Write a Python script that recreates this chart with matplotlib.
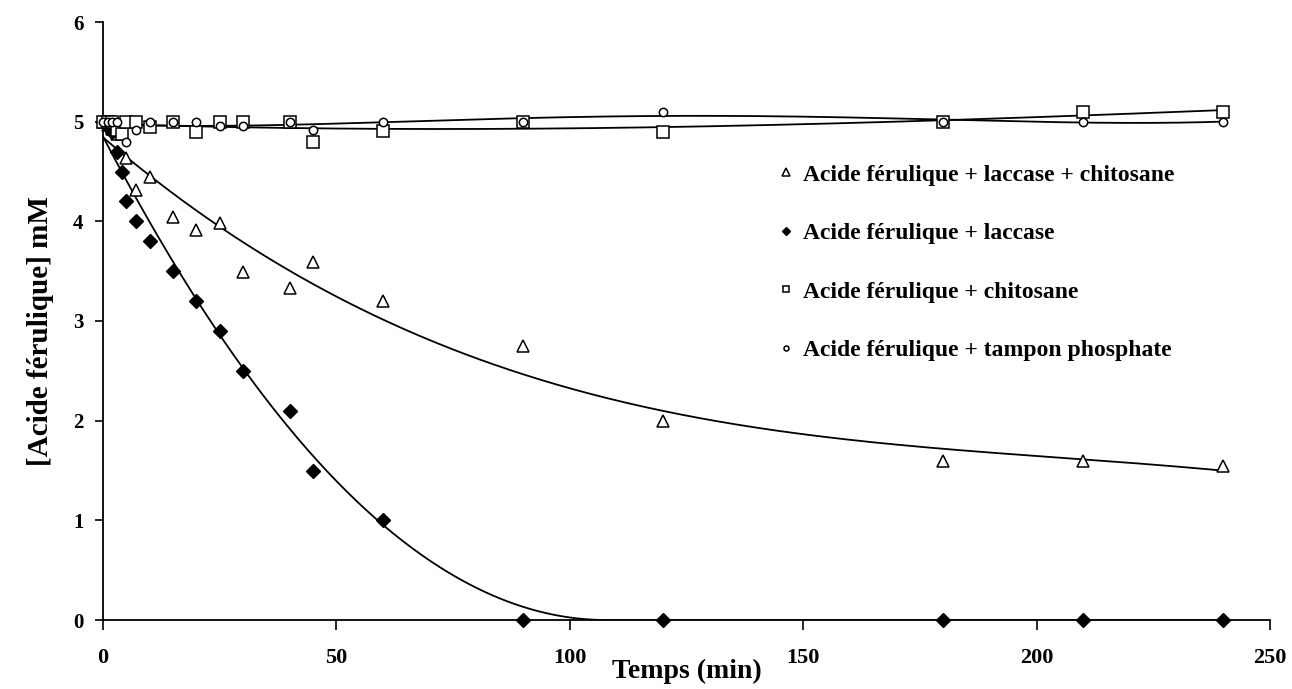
import numpy as np
import matplotlib
matplotlib.use("Agg")
import matplotlib.pyplot as plt
from numpy.polynomial import Polynomial

plt.rcParams['font.family'] = ['Liberation Serif', 'DejaVu Serif']
plt.rcParams['font.weight'] = 'bold'

# Time points (min) and concentrations (mM)
t_tri = [0, 1, 2, 3, 5, 7, 10, 15, 20, 25, 30, 40, 45, 60, 90, 120, 180, 210, 240]
y_tri = [5.0, 4.97, 4.93, 4.88, 4.64, 4.31, 4.44, 4.04, 3.91, 3.98, 3.49, 3.33, 3.59, 3.2, 2.75, 2.0, 1.6, 1.6, 1.55]

t_dia = [0, 1, 2, 3, 4, 5, 7, 10, 15, 20, 25, 30, 40, 45, 60, 90, 120, 180, 210, 240]
y_dia = [5.0, 4.95, 4.9, 4.7, 4.5, 4.2, 4.0, 3.8, 3.5, 3.2, 2.9, 2.5, 2.1, 1.5, 1.0, 0.0, 0.0, 0.0, 0.0, 0.0]

t_sq = [0, 1, 2, 3, 4, 5, 7, 10, 15, 20, 25, 30, 40, 45, 60, 90, 120, 180, 210, 240]
y_sq = [5.0, 5.0, 5.0, 4.92, 4.88, 5.0, 5.0, 4.95, 5.0, 4.9, 5.0, 5.0, 5.0, 4.8, 4.91, 5.0, 4.9, 5.0, 5.1, 5.1]

t_ci = [0, 1, 2, 3, 5, 7, 10, 15, 20, 25, 30, 40, 45, 60, 90, 120, 180, 210, 240]
y_ci = [5.0, 5.0, 5.0, 5.0, 4.8, 4.92, 5.0, 5.0, 5.0, 4.96, 4.96, 5.0, 4.92, 5.0, 5.0, 5.1, 5.0, 5.0, 5.0]

labels = ["Acide férulique + laccase + chitosane",
          "Acide férulique + laccase",
          "Acide férulique + chitosane",
          "Acide férulique + tampon phosphate"]

fig = plt.figure(figsize=(12.92, 6.89), dpi=100)
ax = fig.add_axes([103/1292, 1-620/689, (1270-103)/1292, (620-22)/689])

tt = np.linspace(0, 240, 600)

def trend(t, y, deg):
    p = Polynomial.fit(np.asarray(t, float), np.asarray(y, float), deg)
    return p(tt)

# depletion trend: linear fit of sqrt(C) on the non-zero points, C = 0 once exhausted
td = np.asarray(t_dia, float); yd = np.asarray(y_dia, float)
nz = yd > 0
p_sqrt = Polynomial.fit(td[nz], np.sqrt(yd[nz]), 1)
y_dia_fit = np.clip(p_sqrt(tt), 0, None) ** 2

ax.plot(tt, trend(t_tri, y_tri, 3), color='black', lw=1.3, zorder=2)
ax.plot(tt, y_dia_fit, color='black', lw=1.3, zorder=2)
ax.plot(tt, trend(t_sq, y_sq, 3), color='black', lw=1.3, zorder=2)
ax.plot(tt, trend(t_ci, y_ci, 4), color='black', lw=1.3, zorder=2)

ax.plot(t_tri, y_tri, ls='none', marker='^', ms=9, mfc='white', mec='black', mew=1.1, label=labels[0], zorder=3, clip_on=False)
ax.plot(t_dia, y_dia, ls='none', marker='D', ms=7, mfc='black', mec='black', mew=1, label=labels[1], zorder=3, clip_on=False)
ax.plot(t_sq, y_sq, ls='none', marker='s', ms=8, mfc='white', mec='black', mew=1.1, label=labels[2], zorder=3, clip_on=False)
ax.plot(t_ci, y_ci, ls='none', marker='o', ms=6, mfc='white', mec='black', mew=1.1, label=labels[3], zorder=3, clip_on=False)

ax.set_xlim(0, 250)
ax.set_ylim(0, 6)
ax.set_xticks(np.arange(0, 251, 50))
ax.set_yticks(np.arange(0, 7, 1))
for s in ['top', 'right']:
    ax.spines[s].set_visible(False)
for s in ['left', 'bottom']:
    ax.spines[s].set_linewidth(1.3)
ax.tick_params(axis='x', direction='out', length=7, width=1.2, labelsize=16, pad=13)
ax.tick_params(axis='y', direction='out', length=6, width=1.2, labelsize=15, pad=8)
for lab in ax.get_xticklabels() + ax.get_yticklabels():
    lab.set_fontweight('bold')

ax.set_xlabel("Temps (min)", fontsize=20, fontweight='bold')
ax.xaxis.set_label_coords(0.5, -0.065)
ax.set_ylabel("[Acide férulique] mM", fontsize=21, fontweight='bold')
ax.yaxis.set_label_coords(-0.042, (620-331)/598)

leg = ax.legend(loc='upper left', bbox_to_anchor=(777/1292, 1-164/689), bbox_transform=fig.transFigure,
                frameon=False, markerscale=0.6, handlelength=0.8, handletextpad=0.3,
                borderpad=0, borderaxespad=0, labelspacing=1.57,
                prop={'weight': 'bold', 'size': 17})

fig.savefig("out.png", dpi=100)
